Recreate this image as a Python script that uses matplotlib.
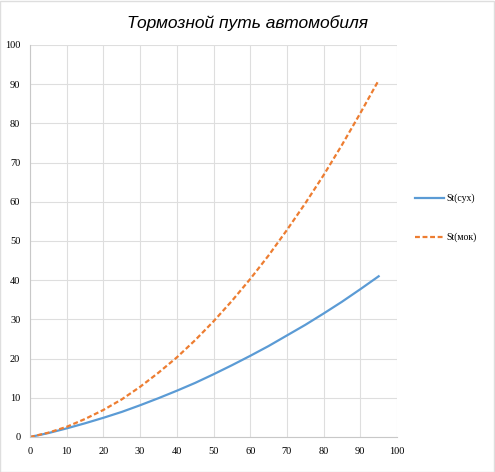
"""Braking distance chart (out.png)."""

import matplotlib

matplotlib.use("Agg")
import matplotlib.pyplot as plt  # noqa: E402
from matplotlib.patches import Rectangle  # noqa: E402

BLUE = "#5B9BD5"
ORANGE = "#ED7D31"
GRID = "#DEDEDE"

speed = [0, 5, 10, 15, 20, 25, 30, 35, 40, 45, 50, 55, 60, 65, 70, 75, 80, 85, 90, 95]
dry = [0, 1.0, 2.2, 3.5, 4.9, 6.4, 8.1, 9.9, 11.8, 13.8, 16.0, 18.3, 20.7, 23.2,
       25.9, 28.6, 31.5, 34.5, 37.7, 41.0]
wet = [0, 1.1, 2.6, 4.6, 6.9, 9.6, 12.8, 16.4, 20.3, 24.7, 29.5, 34.7, 40.3, 46.3,
       52.8, 59.6, 66.8, 74.5, 82.6, 91.0]
labels = ["St(сух)", "St(мок)"]
title = "Тормозной путь автомобиля"

fig = plt.figure(figsize=(4.95, 4.72), dpi=100)
ax = fig.add_axes([30 / 495, 35 / 472, 367 / 495, 392 / 472])

ax.plot(speed, dry, color=BLUE, lw=1.6, label=labels[0])
ax.plot(speed, wet, color=ORANGE, lw=1.6, ls=(0, (2.2, 1.2)), label=labels[1])

ax.set_xlim(0, 100)
ax.set_ylim(0, 100)
ax.set_xticks(range(0, 101, 10))
ax.set_yticks(range(0, 101, 10))
ax.grid(True, color=GRID, lw=0.8)
ax.set_axisbelow(True)
for side in ("top", "right"):
    ax.spines[side].set_visible(False)
for side in ("left", "bottom"):
    ax.spines[side].set_color("#C8C8C8")
    ax.spines[side].set_linewidth(0.8)
ax.tick_params(length=0, labelsize=7.5, pad=7)
for t in ax.get_xticklabels() + ax.get_yticklabels():
    t.set_family("Liberation Serif")

fig.text(0.5, 0.952, title, ha="center", va="center", fontsize=12.5, style="italic",
         family="Liberation Sans")

fig.legend(loc="center left", bbox_to_anchor=(406 / 495, 1 - 218 / 472), frameon=False,
           handlelength=3.0, handletextpad=0.3, labelspacing=3.0,
           prop={"family": "Liberation Serif", "size": 7})

fig.add_artist(Rectangle((0.001, 0.001), 0.997, 0.997, transform=fig.transFigure,
                         fill=False, ec=GRID, lw=1))

fig.savefig("out.png", dpi=100)
